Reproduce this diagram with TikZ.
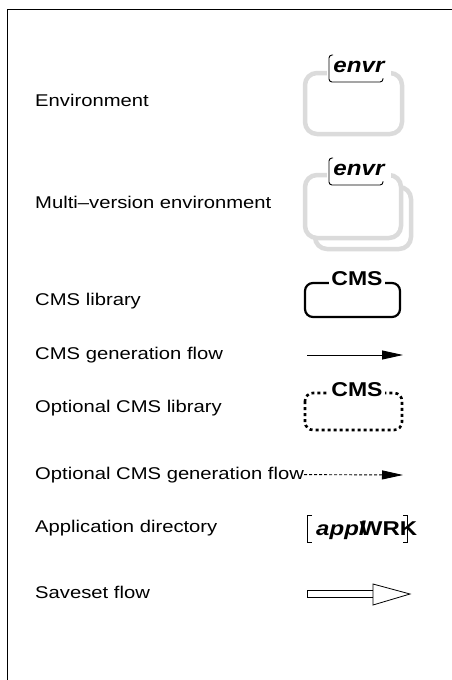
\documentclass[tikz,border=0pt]{standalone}
\usepackage{fontspec}
\setmainfont{Liberation Sans}
\usetikzlibrary{arrows.meta}

\begin{document}
\begin{tikzpicture}[x=1pt,y=1pt]
\tikzstyle{every node}+=[inner sep=0pt]
\tikzstyle{lbl}=[anchor=base west,font=\fontsize{17}{20}\selectfont,xscale=1.19,transform shape]
\tikzstyle{tag}=[fill=white,inner xsep=2pt,inner ysep=1pt,font=\fontsize{20}{22}\selectfont\bfseries,xscale=1.15,transform shape]
\tikzstyle{envtag}=[tag,font=\fontsize{21}{22}\selectfont\bfseries\itshape,xscale=1.0,inner xsep=6pt,inner ysep=5pt]
\tikzstyle{envbox}=[draw=black!14,line width=4.5pt,rounded corners=12pt]
\tikzstyle{libbox}=[draw=black,line width=2.2pt,rounded corners=8pt]
\tikzstyle{flow}=[-{Triangle[length=21pt,width=9pt]},line width=0.9pt]
\useasboundingbox (0,0) rectangle (452,-680);
% frame
\draw [line width=1.4pt] (452,-9.5) -- (7.5,-9.5) -- (7.5,-680);
% legend texts
\node [lbl] (tenv) at (35,-106) {Environment};
\node [lbl] (tmulti) at (35,-208) {Multi\textendash version environment};
\node [lbl] (tlib) at (35,-305) {CMS library};
\node [lbl] (tgen) at (35,-359) {CMS generation flow};
\node [lbl] (toptlib) at (35,-412) {Optional CMS library};
\node [lbl] (toptgen) at (35,-479) {Optional CMS generation flow};
\node [lbl] (tapp) at (35,-532) {Application directory};
\node [lbl] (tsave) at (35,-598) {Saveset flow};
% environment
\draw [envbox] (305,-73) rectangle (402,-134);
\node [envtag] (envr) at (359,-67) {envr};
\draw [line width=0.9pt,rounded corners=3pt] (333,-55) -- (329,-55) -- (329,-82) -- (383,-82) -- (383,-78);
% multi-version environment
\draw [envbox] (315,-187) rectangle (411,-249);
\draw [envbox,fill=white] (305,-175) rectangle (401,-238);
\node [envtag] (envrm) at (359,-170) {envr};
\draw [line width=0.9pt,rounded corners=3pt] (333,-158) -- (329,-158) -- (329,-185) -- (383,-185) -- (383,-181);
% CMS library
\draw [libbox] (305,-283) rectangle (400,-317);
\node [tag] (cms) at (357,-279) {CMS};
% CMS generation flow
\coordinate (g1) at (307,-355);
\coordinate (g2) at (403,-355);
\draw [flow] (g1) -- (g2);
% optional CMS library
\draw [libbox,line width=2.6pt,dash pattern=on 3pt off 3pt] (305,-393) rectangle (402,-430);
\node [tag] (cmsopt) at (357,-390) {CMS};
% optional CMS generation flow
\coordinate (o2) at (403,-475);
\draw [flow,dash pattern=on 3pt off 2pt] (toptgen.east) -- (o2);
% application directory
\draw [line width=0.9pt] (312,-515) -- (307.5,-515) -- (307.5,-542) -- (312,-542);
\draw [line width=0.9pt] (403,-515) -- (407.5,-515) -- (407.5,-542) -- (403,-542);
\node [anchor=base west,font=\fontsize{20}{22}\selectfont,xscale=1.2,transform shape] (appl) at (316,-535) {\textbf{\textit{appl}}\kern-5pt\textbf{WRK}};
% saveset flow
\coordinate (s1) at (307,-593.5);
\coordinate (s2) at (410,-594);
\draw [line width=0.8pt,fill=white] (307,-590) rectangle (373,-597);
\draw [line width=0.8pt,fill=white] (373,-584) -- (s2) -- (373,-605) -- cycle;
\end{tikzpicture}
\end{document}
